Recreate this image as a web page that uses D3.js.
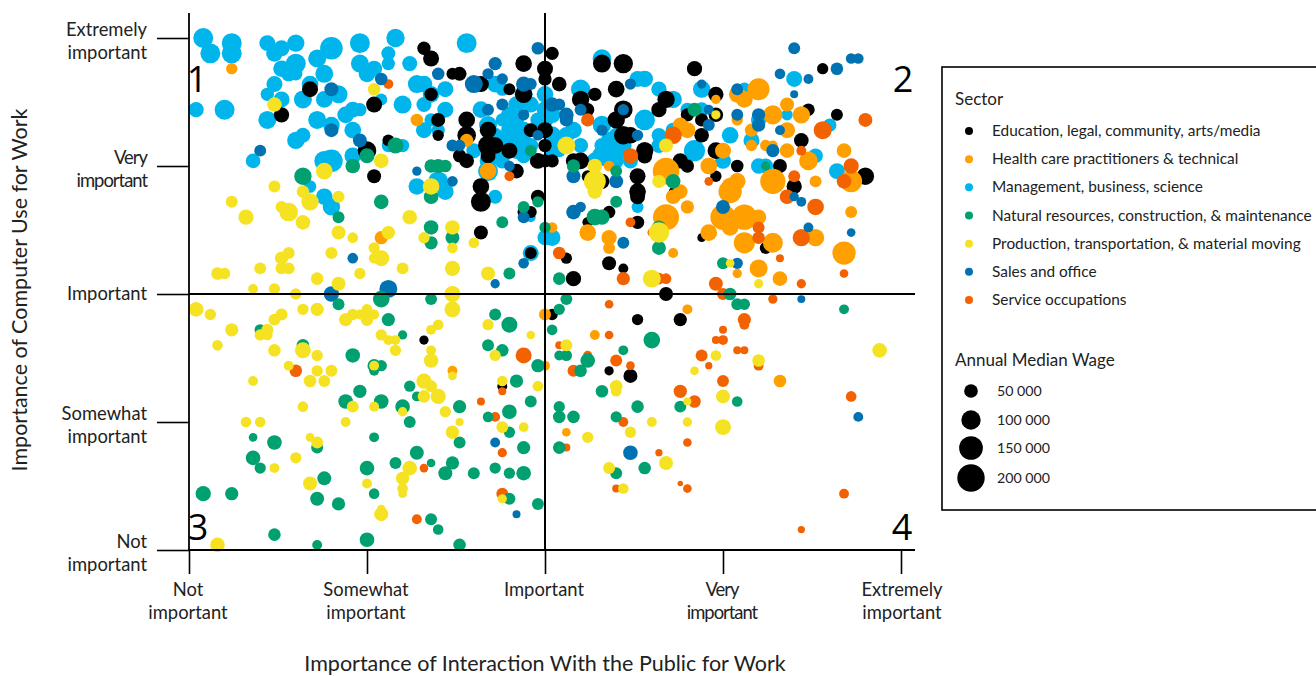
<!DOCTYPE html>
<html><head><meta charset="utf-8">
<script src="https://cdn.jsdelivr.net/npm/d3@7/dist/d3.min.js"></script>
<style>html,body{margin:0;padding:0;background:#fff;overflow:hidden}
text{font-family:Lato,"Open Sans",sans-serif;fill:#222}</style></head>
<body><svg id="c" width="1316" height="676"></svg>
<script>
// Each point: [interaction with the public, computer use, annual median wage in thousands]
const management=[[2,100,106],[3,97,106],[6,99,106],[6,97,106],[11,99,68],[13,98,68],[12,97,74],[15,99,80],[20,98,136],[18,96,86],[24,99,106],[29,100,90],[28,97,52],[28,95,47],[24,95,86],[26,94,68],[25,93,74],[15,95,106],[13,94,74],[15,93,47],[19,93,86],[14,93,60],[12,91,68],[11,89,47],[13,88,68],[17,91,74],[16,88,86],[19,88,74],[21,89,86],[1,86,62],[5,86,106],[11,84,86],[18,84,86],[20,83,74],[22,85,74],[23,86,68],[24,86,47],[23,82,74],[15,80,80],[16,81,60],[39,99,106],[31,95,60],[32,91,86],[33,91,74],[34,89,74],[36,90,68],[30,87,86],[33,87,60],[36,86,68],[34,84,47],[33,82,68],[35,82,47],[27,88,38],[30,79,47],[28,79,47],[41,86,74],[42,83,86],[43,81,60],[44,84,47],[45,82,74],[46,80,74],[47,82,74],[43,91,74],[44,90,47],[47,89,86],[46,87,74],[48,87,68],[40,78,60],[20,76,136],[19,76,106],[23,77,74],[43,78,106],[46,78,74],[48,79,60],[9,76,57],[17,71,42],[19,69,74],[20,67,80],[32,71,74],[35,72,106],[36,70,74],[43,69,52],[42,74,106],[48,65,26],[48,58,68],[50,61,60],[58,96,92],[64,92,74],[63,92,68],[55,90,99],[66,90,62],[50,89,74],[68,88,80],[64,84,113],[58,83,92],[59,80,74],[52,80,106],[54,82,74],[51,85,74],[66,81,57],[68,82,60],[70,86,52],[72,86,57],[72,90,80],[78,90,47],[85,92,68],[76,81,74],[79,80,68],[80,84,62],[84,85,34],[90,83,47],[71,78,120],[58,77,106],[60,78,92],[88,77,57],[52,78,47],[51,61,74],[63,67,38],[80,75,62],[81,75,60],[91,74,68],[75,76,68],[59,77,144],[45,85,74],[46,84,60],[44,80,74],[47,80,60],[45,80,74],[49,84,60],[47,77,60],[44,76,60],[42,76,74],[50,86,74],[50,84,74],[51,81,86],[53,81,74],[51,78,60],[55,79,60],[58,79,60],[60,81,60],[61,79,74],[60,76,60],[57,76,74],[62,76,60],[66,79,60]];
const education=[[33,98,47],[34,96,68],[37,93,38],[38,93,52],[41,91,68],[17,90,68],[26,87,68],[13,85,62],[34,89,47],[35,84,52],[39,84,74],[35,81,34],[39,81,92],[42,82,74],[45,90,38],[47,95,74],[50,94,68],[50,92,47],[47,89,80],[48,82,52],[50,82,68],[50,79,47],[28,80,38],[25,78,92],[42,79,106],[43,79,74],[45,78,68],[38,77,47],[39,76,57],[42,77,60],[26,73,52],[41,71,74],[41,68,106],[41,62,52],[48,66,38],[47,66,40],[49,69,52],[46,74,57],[49,76,68],[48,58,38],[51,97,47],[52,91,57],[58,95,86],[61,95,99],[71,94,62],[89,94,34],[55,88,80],[57,89,47],[60,90,74],[56,86,47],[61,86,92],[67,88,80],[66,86,62],[60,84,80],[74,89,62],[74,85,57],[70,85,47],[72,84,47],[72,81,57],[61,81,92],[62,81,74],[87,86,42],[91,85,38],[86,80,57],[74,78,74],[64,78,80],[69,76,62],[54,76,62],[55,76,74],[50,76,47],[51,76,47],[64,77,62],[70,75,47],[63,73,68],[63,70,74],[63,69,60],[56,73,38],[58,72,60],[77,75,42],[74,73,34],[59,66,42],[56,64,30],[63,64,47],[72,61,20],[81,59,38],[83,75,52],[85,71,62],[95,73,80],[77,70,17],[68,70,20],[53,57,34],[59,56,52],[61,55,26],[54,53,62],[67,50,52],[33,41,23],[44,32,26],[63,45,34],[69,45,47],[51,46,34],[59,35,23],[62,34,52]];
const health=[[6,94,34],[32,84,42],[39,80,47],[80,90,128],[77,89,74],[78,88,74],[74,88,23],[84,87,52],[82,85,99],[86,85,80],[77,84,34],[69,83,60],[70,82,68],[79,82,47],[84,82,68],[81,79,34],[82,79,26],[79,79,34],[84,78,57],[87,76,92],[75,78,68],[92,78,57],[42,74,74],[27,61,47],[59,75,30],[67,74,188],[73,75,74],[76,70,144],[77,72,74],[76,71,80],[68,69,57],[69,70,57],[70,67,47],[67,65,180],[75,65,170],[78,65,170],[76,63,74],[80,65,62],[73,62,74],[56,62,74],[59,61,62],[78,60,120],[82,60,106],[88,61,80],[59,59,38],[68,58,26],[80,55,86],[83,53,57],[77,54,23],[92,58,144],[93,66,38],[82,72,170],[88,72,38],[93,72,128],[51,63,30],[37,35,26],[50,46,38],[50,36,26],[70,47,26],[57,42,26],[83,33,42],[53,23,20]];
const service=[[28,91,26],[56,84,47],[89,82,86],[95,84,52],[68,81,80],[62,77,62],[86,78,26],[73,72,20],[85,73,38],[84,69,57],[93,75,62],[92,72,57],[88,67,74],[80,63,38],[80,61,42],[86,61,80],[62,64,26],[65,62,20],[52,58,42],[83,57,17],[92,54,20],[86,52,23],[61,53,47],[66,53,38],[67,53,30],[74,52,52],[75,50,38],[82,49,23],[45,73,26],[15,35,42],[47,38,68],[41,29,17],[43,26,26],[44,31,17],[44,19,23],[33,16,20],[44,11,38],[32,6,26],[59,48,20],[78,45,47],[78,44,26],[75,43,17],[74,41,17],[75,41,26],[59,42,20],[52,40,17],[77,39,17],[78,39,17],[72,38,38],[56,38,23],[60,37,38],[73,36,14],[62,36,20],[54,35,38],[80,36,26],[75,33,38],[69,31,47],[71,29,42],[93,30,30],[61,25,26],[70,21,20],[53,20,17],[66,19,14],[60,12,17],[70,12,20],[69,13,8],[92,11,26],[86,4,14]];
const sales=[[10,78,38],[27,92,42],[20,90,52],[20,82,52],[24,80,52],[35,93,42],[43,95,47],[49,98,42],[42,93,34],[44,92,34],[40,91,86],[47,91,62],[48,91,38],[42,86,38],[44,87,38],[47,85,34],[49,81,30],[37,79,38],[38,79,34],[32,74,23],[37,72,30],[45,75,30],[23,57,30],[47,56,30],[43,52,23],[28,51,86],[20,50,62],[47,65,38],[85,98,38],[83,93,30],[87,92,26],[91,94,42],[93,96,30],[94,96,30],[85,89,17],[72,91,23],[62,91,34],[77,90,38],[55,86,38],[61,86,34],[51,87,57],[52,87,38],[53,85,57],[53,84,47],[73,86,26],[73,83,38],[77,85,38],[80,85,47],[80,83,47],[83,82,26],[58,82,34],[63,81,34],[82,78,47],[54,73,52],[60,72,52],[55,67,30],[54,66,57],[75,67,52],[85,69,23],[86,68,26],[87,63,26],[61,60,38],[93,62,20],[77,56,34],[86,49,17],[43,21,26],[46,7,17],[94,26,26],[62,19,57]];
const natural=[[29,79,68],[25,77,60],[48,78,38],[16,73,80],[23,75,57],[34,75,47],[35,75,52],[36,75,42],[34,69,57],[27,68,57],[21,65,38],[34,63,57],[37,61,52],[34,60,47],[44,64,38],[47,67,38],[49,68,34],[50,63,34],[45,54,38],[27,49,74],[34,49,38],[71,86,52],[54,75,47],[60,74,38],[68,72,57],[81,75,23],[60,68,38],[57,65,74],[58,65,62],[66,63,52],[66,59,52],[50,63,26],[75,56,38],[52,53,42],[76,50,42],[53,49,38],[21,48,38],[10,43,34],[16,40,42],[28,45,47],[30,42,23],[23,38,57],[26,36,47],[26,35,26],[27,36,34],[43,46,38],[45,44,68],[42,40,38],[44,39,42],[49,36,47],[46,33,47],[31,32,34],[32,30,26],[24,31,47],[22,29,57],[27,29,57],[30,28,57],[38,28,47],[48,29,38],[45,27,57],[42,26,30],[31,25,38],[45,23,34],[9,22,20],[12,21,57],[18,20,38],[26,22,26],[38,21,38],[47,20,47],[9,18,57],[10,16,34],[32,19,52],[29,17,38],[34,17,20],[37,17,47],[25,16,57],[36,15,52],[40,15,38],[43,16,34],[45,15,34],[47,15,57],[19,14,52],[26,11,30],[2,11,62],[6,11,47],[18,10,52],[21,9,47],[45,10,38],[49,9,38],[34,6,38],[35,4,30],[12,3,42],[25,2,57],[18,1,26],[38,1,42],[52,47,34],[77,48,38],[78,48,34],[92,47,26],[51,43,30],[65,41,74],[61,39,26],[52,38,26],[53,38,34],[56,37,57],[55,35,42],[58,31,42],[52,28,34],[52,26,42],[54,26,42],[63,28,42],[69,28,38],[60,26,34],[77,29,30],[52,20,42],[64,16,42],[60,15,38]];
const production=[[26,90,42],[12,87,57],[19,74,74],[27,76,57],[34,71,74],[12,71,38],[16,70,42],[17,68,80],[21,69,38],[6,68,38],[8,65,62],[13,67,38],[14,66,92],[16,64,57],[21,62,52],[23,61,30],[28,62,47],[31,65,57],[37,63,57],[33,61,34],[37,59,30],[40,60,30],[20,58,38],[26,59,34],[27,57,68],[26,57,30],[13,57,47],[14,58,38],[13,55,38],[14,55,38],[10,55,38],[4,54,42],[5,54,34],[18,53,42],[24,54,34],[30,55,38],[37,55,62],[42,54,52],[21,52,52],[9,51,26],[12,51,34],[15,50,34],[37,50,68],[74,85,23],[67,79,52],[53,79,86],[57,75,57],[57,72,128],[57,70,57],[66,72,47],[66,62,113],[65,53,86],[76,56,20],[80,52,23],[1,47,57],[3,46,34],[6,43,47],[4,40,30],[12,45,38],[13,46,38],[16,47,34],[18,47,47],[10,42,34],[11,43,38],[11,42,30],[12,39,42],[16,39,68],[18,38,34],[14,36,26],[18,35,34],[20,35,38],[17,33,42],[19,33,38],[9,33,26],[22,45,47],[23,46,34],[24,46,26],[25,47,30],[25,45,42],[26,46,26],[37,47,68],[34,43,26],[35,44,30],[27,42,34],[28,41,26],[29,41,26],[29,39,34],[34,39,26],[34,37,57],[26,36,26],[42,44,34],[43,38,34],[48,42,20],[37,34,20],[44,33,30],[49,32,30],[33,33,62],[34,32,38],[33,30,42],[35,30,62],[23,28,38],[26,28,26],[30,27,23],[16,28,30],[36,27,34],[8,25,30],[10,25,30],[22,25,26],[38,25,17],[37,23,47],[44,24,38],[47,24,26],[17,22,20],[18,21,38],[15,18,34],[12,16,26],[31,16,57],[30,14,47],[17,13,52],[25,13,26],[30,12,30],[30,11,20],[27,8,20],[27,7,52],[44,10,23],[4,1,57],[53,40,38],[74,38,30],[80,37,42],[97,39,57],[71,35,20],[60,32,42],[60,31,30],[75,30,52],[70,29,17],[65,25,26],[70,25,23],[62,23,34],[56,22,34],[75,24,68],[67,17,52],[59,16,38],[61,12,30]];
const sectorNames=["Education, legal, community, arts/media","Health care practitioners & technical","Management, business, science","Natural resources, construction, & maintenance","Production, transportation, & material moving","Sales and office","Service occupations"];
const sectorColors=["#000000","#FF9F00","#00B5EC","#00A070","#F5E223","#0072B2","#F26200"];
const wageLegend=[50,100,150,200];
const wageLabels=["50 000","100 000","150 000","200 000"];
const tickValues=[0,25,50,75,100];
const xTickLabels=[["Not","important"],["Somewhat","important"],["Important"],["Very","important"],["Extremely","important"]];
const yTickLabels=[["Not","important"],["Somewhat","important"],["Important"],["Very","important"],["Extremely","important"]];

const svg=d3.select("#c");
const x=d3.scaleLinear().domain([0,100]).range([189,901]);
const y=d3.scaleLinear().domain([0,100]).range([550,38]);
const r=d3.scaleSqrt().domain([0,200]).range([0,13.7]);

// Points, drawn back to front in the sector stacking order of the reference
const layers=[[management,2],[education,0],[health,1],[service,6],[sales,5],[natural,3],[production,4]];
layers.forEach(([rows,c])=>{
  svg.append("g").selectAll("circle").data(rows).join("circle")
    .attr("cx",d=>x(d[0])).attr("cy",d=>y(d[1])).attr("r",d=>r(d[2]))
    .attr("fill",sectorColors[c]);
});

// Axes
const line=(x1,y1,x2,y2,w)=>svg.append("line").attr("x1",x1).attr("y1",y1).attr("x2",x2).attr("y2",y2).attr("stroke","#000").attr("stroke-width",w);
const yAxis=d3.axisLeft(y).tickValues(tickValues).tickSize(32).tickFormat("");
const xAxis=d3.axisBottom(x).tickValues(tickValues).tickSize(24).tickFormat("");
const gy=svg.append("g").attr("transform",`translate(${x(0)},0)`).call(yAxis);
const gx=svg.append("g").attr("transform",`translate(0,${y(0)})`).call(xAxis);
[gy,gx].forEach(g=>{g.select(".domain").remove();g.selectAll("line").attr("stroke","#000").attr("stroke-width",1.6);});
line(x(0),13,x(0),y(0),1.8);line(x(50),13,x(50),y(0),2);
line(x(0),y(50),915,y(50),2);line(x(0),y(0),915,y(0),2);

// Tick labels
const fs=18.4;
yTickLabels.forEach((ls,i)=>{
  const yy=y(tickValues[i]);
  const base=ls.length===2?[yy-2,yy+21]:[yy+6];
  ls.forEach((t,j)=>svg.append("text").attr("x",147).attr("y",base[j]).attr("text-anchor","end").attr("font-size",fs)
    .attr("letter-spacing",i===3?-1:0).text(t));
});
xTickLabels.forEach((ls,i)=>{
  const xx=x(tickValues[i]);
  ls.forEach((t,j)=>svg.append("text").attr("x",xx+(i===0?-1:i===4?1:-1)).attr("y",596+j*22.5).attr("text-anchor","middle").attr("font-size",fs)
    .attr("letter-spacing",i===3?-1:0).text(t));
});
svg.append("text").attr("x",545).attr("y",671).attr("text-anchor","middle").attr("font-size",21.5).text("Importance of Interaction With the Public for Work");
svg.append("text").attr("transform","translate(27,290) rotate(-90)").attr("text-anchor","middle").attr("font-size",21.5).text("Importance of Computer Use for Work");

// Quadrant numbers
[["1",197,92],["2",903,92],["3",198,540],["4",902,540]].forEach(q=>{
  svg.append("text").attr("x",q[1]).attr("y",q[2]).attr("text-anchor","middle").attr("font-size",36).style("font-family","'Open Sans'").style("fill","#000").text(q[0]);
});

// Legend
svg.append("rect").attr("x",942).attr("y",67).attr("width",380).attr("height",443).attr("fill","#fff").attr("stroke","#000").attr("stroke-width",1.6);
const lf=15.4;
svg.append("text").attr("x",955).attr("y",105).attr("font-size",17).text("Sector");
const rowY=d3.scalePoint().domain(sectorNames).range([131,300]);
sectorNames.forEach((n,i)=>{
  svg.append("circle").attr("cx",969).attr("cy",rowY(n)).attr("r",4).attr("fill",sectorColors[i]);
  svg.append("text").attr("x",992).attr("y",rowY(n)+5).attr("font-size",lf).text(n);
});
svg.append("text").attr("x",955).attr("y",366).attr("font-size",17).text("Annual Median Wage");
const wageY=[391,420,448,478];
wageLegend.forEach((w,i)=>{
  svg.append("circle").attr("cx",971).attr("cy",wageY[i]).attr("r",r(w)).attr("fill","#000");
  svg.append("text").attr("x",997).attr("y",wageY[i]+5).attr("font-size",14.2).text(wageLabels[i]);
});
</script></body></html>
